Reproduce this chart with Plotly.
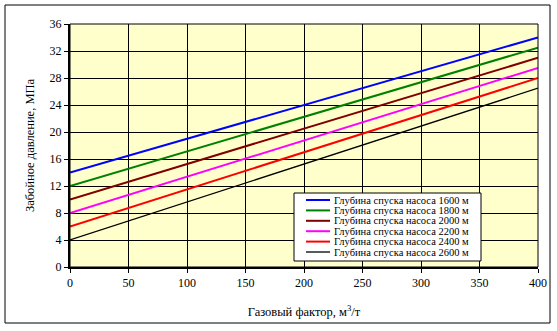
import plotly.graph_objects as go

gas_factor = [0, 50, 100, 150, 200, 250, 300, 350, 400]
depth_labels = ["Глубина спуска насоса 1600 м", "Глубина спуска насоса 1800 м",
                "Глубина спуска насоса 2000 м", "Глубина спуска насоса 2200 м",
                "Глубина спуска насоса 2400 м", "Глубина спуска насоса 2600 м"]
p_1600 = [14.0, 16.5, 19.0, 21.5, 24.0, 26.5, 29.0, 31.5, 34.0]
p_1800 = [12.0, 14.56, 17.13, 19.69, 22.25, 24.81, 27.38, 29.94, 32.5]
p_2000 = [10.0, 12.63, 15.25, 17.88, 20.5, 23.13, 25.75, 28.38, 31.0]
p_2200 = [8.0, 10.69, 13.38, 16.06, 18.75, 21.44, 24.13, 26.81, 29.5]
p_2400 = [6.0, 8.75, 11.5, 14.25, 17.0, 19.75, 22.5, 25.25, 28.0]
p_2600 = [4.0, 6.81, 9.63, 12.44, 15.25, 18.06, 20.88, 23.69, 26.5]
series = [p_1600, p_1800, p_2000, p_2200, p_2400, p_2600]
colors = ["#0000FF", "#008000", "#800000", "#FF00FF", "#FF0000", "#000000"]
widths = [2, 2, 2, 2, 2, 1.3]

W, H = 557, 331
L, R, T, B = 70, 19, 24, 64
PW, PH = W - L - R, H - T - B


def px(x):
    return (x - L) / PW


def py(y):
    return (H - B - y) / PH


font = "Liberation Serif"
fig = go.Figure()
for name, ys, c, w in zip(depth_labels, series, colors, widths):
    fig.add_trace(go.Scatter(x=gas_factor, y=ys, mode="lines", name=name,
                             line=dict(color=c, width=w), showlegend=False,
                             hoverinfo="skip"))

shapes = [
    dict(type="rect", xref="paper", yref="paper",
         x0=px(5), x1=px(550), y0=py(323), y1=py(5),
         line=dict(color="black", width=1), layer="below"),
    dict(type="rect", xref="paper", yref="paper", x0=0, x1=1, y0=0, y1=1,
         line=dict(color="black", width=1)),
    dict(type="rect", xref="paper", yref="paper",
         x0=px(294), x1=px(481), y0=py(261), y1=py(193),
         line=dict(color="black", width=1), fillcolor="white"),
]
annotations = []
row0, step = 200.0, 10.4
for i, (name, c, w) in enumerate(zip(depth_labels, colors, widths)):
    yy = row0 + i * step
    shapes.append(dict(type="line", xref="paper", yref="paper",
                       x0=px(306), x1=px(330), y0=py(yy), y1=py(yy),
                       line=dict(color=c, width=w)))
    annotations.append(dict(xref="paper", yref="paper", x=px(332), y=py(yy),
                            xanchor="left", yanchor="middle", showarrow=False,
                            text=name, font=dict(family=font, size=10.5, color="black")))

fig.update_layout(
    width=W, height=H,
    margin=dict(l=L, r=R, t=T, b=B, autoexpand=False),
    paper_bgcolor="white", plot_bgcolor="#FFFFCC",
    font=dict(family=font, size=12, color="black"),
    showlegend=False,
    shapes=shapes, annotations=annotations,
)
fig.update_xaxes(range=[0, 400], tickvals=list(range(0, 401, 50)),
                 showgrid=True, gridcolor="black", gridwidth=1,
                 showline=True, linecolor="black", linewidth=2,
                 ticks="outside", ticklen=4, tickcolor="black", zeroline=False,
                 automargin=False,
                 title=dict(text="Газовый фактор, м<sup>3</sup>/т", standoff=18,
                            font=dict(size=12.5)))
fig.update_yaxes(range=[0, 36], tickvals=list(range(0, 37, 4)),
                 showgrid=True, gridcolor="black", gridwidth=1,
                 showline=True, linecolor="black", linewidth=2,
                 ticks="outside", ticklen=4, tickcolor="black", zeroline=False,
                 automargin=False,
                 title=dict(text="Забойное давление, МПа", standoff=12,
                            font=dict(size=12.5)))
fig.write_html("out.html", config={"displayModeBar": False},
               post_script="document.body.style.margin='0';document.body.style.padding='0';")
